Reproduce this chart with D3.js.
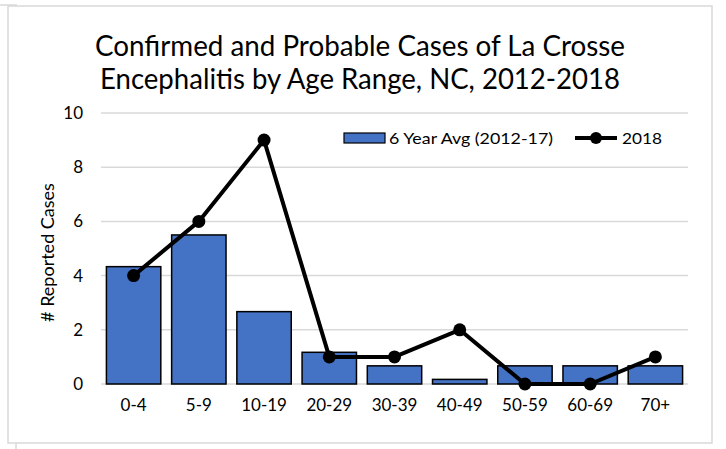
<!DOCTYPE html>
<html>
<head>
<meta charset="utf-8">
<script src="https://cdn.jsdelivr.net/npm/d3@7"></script>
<style>
  html, body { margin: 0; padding: 0; background: #fff; }
  svg { display: block; font-family: Lato, "Noto Sans", sans-serif; }
</style>
</head>
<body>
<div id="chart"></div>
<script>
// data
const ageRanges = ["0-4", "5-9", "10-19", "20-29", "30-39", "40-49", "50-59", "60-69", "70+"];
const avgCases = [4.33, 5.5, 2.67, 1.17, 0.67, 0.17, 0.67, 0.67, 0.67];
const cases2018 = [4, 6, 9, 1, 1, 2, 0, 0, 1];
const yTicks = [0, 2, 4, 6, 8, 10];
const titleLines = ["Confirmed and Probable Cases of La Crosse", "Encephalitis by Age Range, NC, 2012-2018"];
const legendLabels = ["6 Year Avg (2012-17)", "2018"];

const width = 726;
const height = 449;
const margin = {top: 113, right: 38, bottom: 65, left: 101};
const barColor = "#4472C4";
const gridColor = "#d9d9d9";

const svg = d3.select("#chart").append("svg")
    .attr("width", width)
    .attr("height", height);

// chart frame
svg.append("rect")
    .attr("x", 8).attr("y", 6)
    .attr("width", 704).attr("height", 437)
    .attr("fill", "none")
    .attr("stroke", gridColor)
    .attr("stroke-width", 1.5);
svg.append("line").attr("x1", 0).attr("x2", 17).attr("y1", 5).attr("y2", 5)
    .attr("stroke", gridColor).attr("stroke-width", 1.5);
svg.append("line").attr("x1", 16).attr("x2", 16).attr("y1", 443).attr("y2", 449)
    .attr("stroke", gridColor).attr("stroke-width", 1.5);

const x = d3.scaleBand()
    .domain(ageRanges)
    .range([margin.left, width - margin.right])
    .paddingInner(0.166)
    .paddingOuter(0.083);

const y = d3.scaleLinear()
    .domain([0, 10])
    .range([height - margin.bottom, margin.top]);

// title
svg.append("g")
  .selectAll("text")
  .data(titleLines)
  .join("text")
    .attr("x", 360)
    .attr("y", (d, i) => 56 + i * 33)
    .attr("text-anchor", "middle")
    .attr("font-size", 28)
    .attr("fill", "#000")
    .attr("textLength", (d, i) => i === 0 ? 530 : 520)
    .attr("lengthAdjust", "spacingAndGlyphs")
    .text(d => d);

// gridlines
svg.append("g")
  .selectAll("line")
  .data(yTicks)
  .join("line")
    .attr("x1", margin.left)
    .attr("x2", width - margin.right)
    .attr("y1", d => y(d))
    .attr("y2", d => y(d))
    .attr("stroke", gridColor)
    .attr("stroke-width", 1.5);

// y axis
const yAxis = svg.append("g")
    .attr("transform", `translate(${margin.left - 18},0)`)
    .call(d3.axisLeft(y).tickValues(yTicks).tickSize(0).tickPadding(0));
yAxis.select(".domain").remove();
yAxis.selectAll("text")
    .attr("font-size", 17)
    .attr("font-family", "Lato, sans-serif")
    .attr("fill", "#000");

svg.append("text")
    .attr("transform", `translate(54,${(y(0) + y(10)) / 2 + 4}) rotate(-90)`)
    .attr("text-anchor", "middle")
    .attr("font-size", 18)
    .attr("fill", "#000")
    .text("# Reported Cases");

// x axis
const xAxis = svg.append("g")
    .attr("transform", `translate(0,${y(0) + 12})`)
    .call(d3.axisBottom(x).tickSize(0).tickPadding(0));
xAxis.select(".domain").remove();
xAxis.selectAll("text")
    .attr("font-size", 17)
    .attr("font-family", "Lato, sans-serif")
    .attr("dy", "0.9em")
    .attr("fill", "#000");

// bars
svg.append("g")
  .selectAll("rect")
  .data(avgCases)
  .join("rect")
    .attr("x", (d, i) => x(ageRanges[i]))
    .attr("y", d => y(d))
    .attr("width", x.bandwidth())
    .attr("height", d => y(0) - y(d))
    .attr("fill", barColor)
    .attr("stroke", "#000")
    .attr("stroke-width", 1.5);

// 2018 line
const line = d3.line()
    .x((d, i) => x(ageRanges[i]) + x.bandwidth() / 2)
    .y(d => y(d));

svg.append("path")
    .datum(cases2018)
    .attr("d", line)
    .attr("fill", "none")
    .attr("stroke", "#000")
    .attr("stroke-width", 4)
    .attr("stroke-linejoin", "round");

svg.append("g")
  .selectAll("circle")
  .data(cases2018)
  .join("circle")
    .attr("cx", (d, i) => x(ageRanges[i]) + x.bandwidth() / 2)
    .attr("cy", d => y(d))
    .attr("r", 6.5)
    .attr("fill", "#000");

// legend
const legend = svg.append("g").attr("font-size", 16);
legend.append("rect")
    .attr("x", 344).attr("y", 133)
    .attr("width", 41).attr("height", 10)
    .attr("fill", barColor)
    .attr("stroke", "#000")
    .attr("stroke-width", 1.2);
legend.append("text")
    .attr("x", 389).attr("y", 144)
    .attr("fill", "#000")
    .attr("textLength", 164)
    .attr("lengthAdjust", "spacingAndGlyphs")
    .text(legendLabels[0]);
legend.append("line")
    .attr("x1", 575).attr("x2", 617)
    .attr("y1", 138).attr("y2", 138)
    .attr("stroke", "#000").attr("stroke-width", 4);
legend.append("circle")
    .attr("cx", 596).attr("cy", 138).attr("r", 6)
    .attr("fill", "#000");
legend.append("text")
    .attr("x", 622).attr("y", 144)
    .attr("fill", "#000")
    .attr("textLength", 40)
    .attr("lengthAdjust", "spacingAndGlyphs")
    .text(legendLabels[1]);
</script>
</body>
</html>
